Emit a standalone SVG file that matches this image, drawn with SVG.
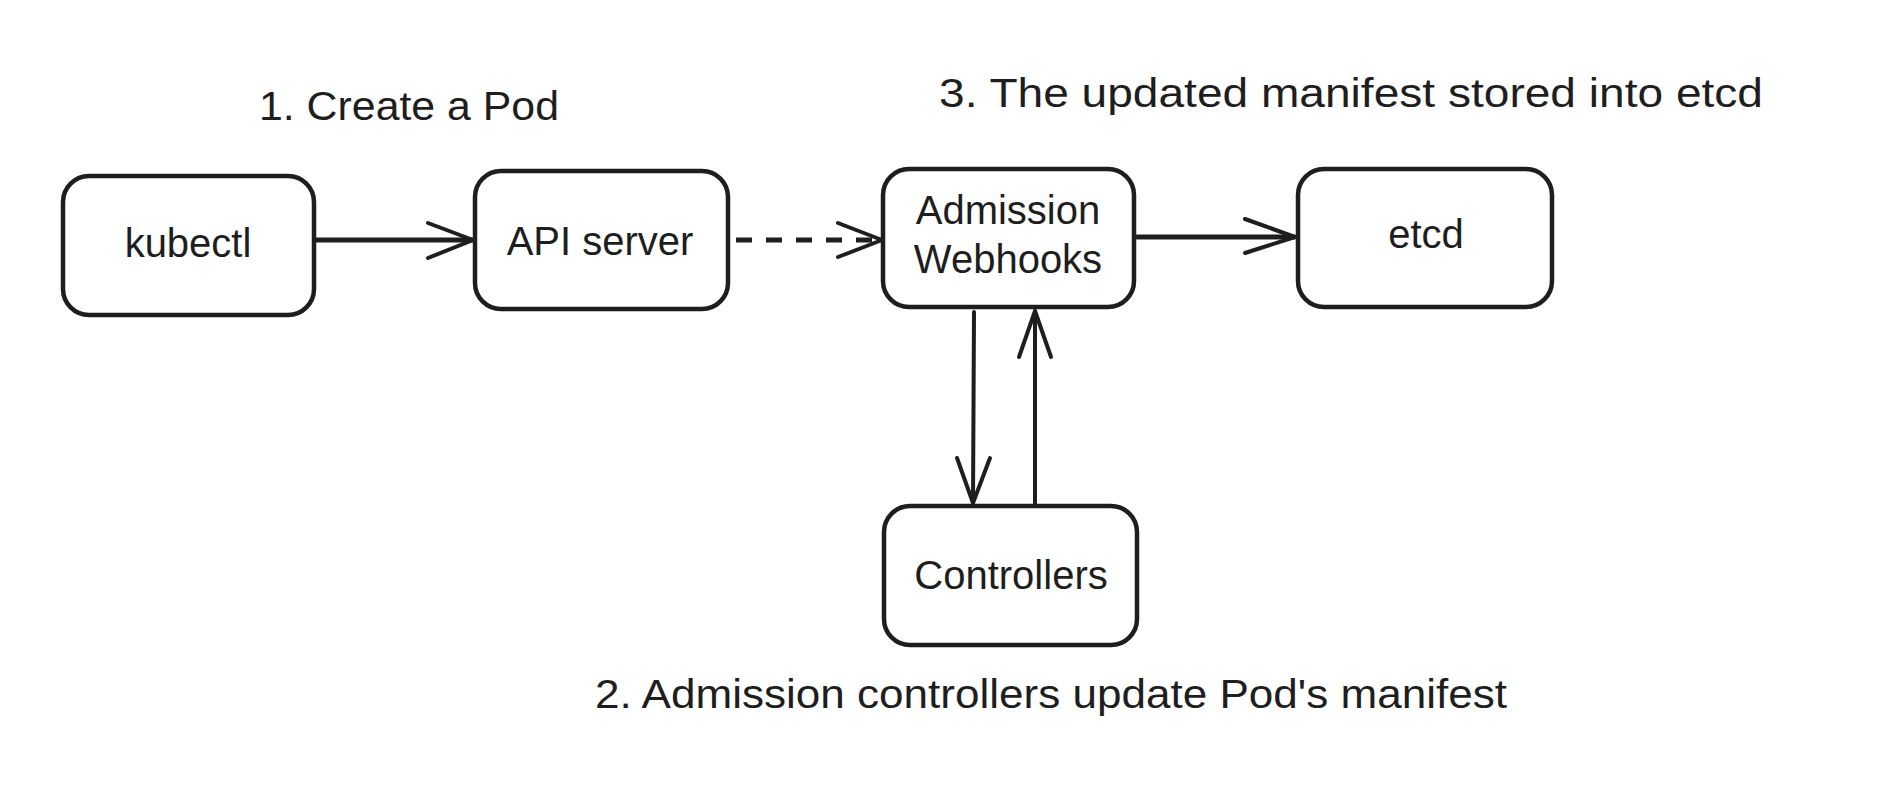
<svg xmlns="http://www.w3.org/2000/svg" width="1886" height="802" viewBox="0 0 1886 802">
<defs>
<style>
.box{fill:#ffffff;stroke:#1e1e1e;stroke-width:4.5;}
.edge{fill:none;stroke:#1e1e1e;stroke-width:4;stroke-linecap:round;stroke-linejoin:round;}
.thick{stroke-width:5;}
.dash{stroke-dasharray:16 14;stroke-linecap:butt;stroke-width:5;}
.lbl{font-family:"Liberation Sans","Open Sans",sans-serif;font-size:40px;fill:#1e1e1e;text-anchor:middle;}
</style>
</defs>
<rect width="1886" height="802" fill="#ffffff"/>
<g id="connectors">
<path class="edge thick" d="M316 240 L472 240"/>
<path class="edge" d="M428 223 L473 240 L428 258"/>
<path class="edge dash" d="M736 240 L872 240"/>
<path class="edge" d="M838 223 L882 240 L838 257"/>
<path class="edge thick" d="M1137 237 L1294 237"/>
<path class="edge" d="M1245 219 L1295 237 L1245 253"/>
<path class="edge" d="M974 312 L973 502"/>
<path class="edge" d="M957 458 L973 503 L990 458"/>
<path class="edge" d="M1035 506 L1035 311"/>
<path class="edge" d="M1019 357 L1035 311 L1051 357"/>
</g>
<g id="label1"><text class="lbl" x="409" y="120" textLength="300" lengthAdjust="spacingAndGlyphs">1. Create a Pod</text></g>
<g id="label3"><text class="lbl" x="1351" y="107" textLength="824" lengthAdjust="spacingAndGlyphs">3. The updated manifest stored into etcd</text></g>
<g id="label2"><text class="lbl" x="1051" y="708" textLength="912" lengthAdjust="spacingAndGlyphs">2. Admission controllers update Pod's manifest</text></g>
<g id="kubectl">
<rect class="box" x="63" y="176" width="251" height="139" rx="26"/>
<text class="lbl" x="188" y="257">kubectl</text>
</g>
<g id="api-server">
<rect class="box" x="475" y="171" width="253" height="138" rx="26"/>
<text class="lbl" x="600" y="255">API server</text>
</g>
<g id="admission-webhooks">
<rect class="box" x="883" y="169" width="251" height="138" rx="26"/>
<text class="lbl" x="1008" y="224">Admission</text>
<text class="lbl" x="1008" y="273">Webhooks</text>
</g>
<g id="etcd">
<rect class="box" x="1298" y="169" width="254" height="138" rx="26"/>
<text class="lbl" x="1426" y="248">etcd</text>
</g>
<g id="controllers">
<rect class="box" x="884" y="506" width="253" height="139" rx="26"/>
<text class="lbl" x="1011" y="589">Controllers</text>
</g>
</svg>
